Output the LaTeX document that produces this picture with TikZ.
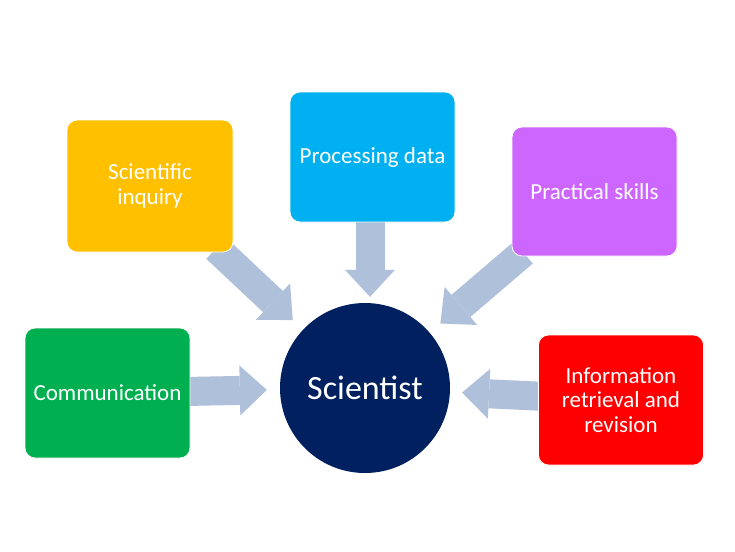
\documentclass[tikz,border=0pt]{standalone}
\usepackage{fontspec}
\setmainfont{Carlito}
\usetikzlibrary{arrows.meta}
\pgfdeclarelayer{bg}
\pgfsetlayers{bg,main}
\definecolor{cyel}{HTML}{FFC000}
\definecolor{ccya}{HTML}{00B0F0}
\definecolor{cpur}{HTML}{CC66FF}
\definecolor{cgrn}{HTML}{00B050}
\definecolor{cred}{HTML}{FF0000}
\definecolor{cnavy}{HTML}{002060}
\definecolor{carrow}{HTML}{AFC0DA}
\tikzset{
  boxnode/.style={rectangle, rounded corners=10pt, minimum width=165pt, minimum height=130pt,
    inner sep=0pt, draw=white, line width=0.8pt, text=white, align=center,
    font=\fontsize{23}{24.5}\selectfont},
  hubnode/.style={circle, fill=cnavy, minimum size=170pt, inner sep=0pt, text=white,
    font=\fontsize{34}{38}\selectfont},
  barrow/.style={draw=carrow, line width=29pt, line cap=butt, shorten <=-6pt,
    -{Triangle[width=50pt,length=27pt,line width=0pt]}, color=carrow}
}
\begin{document}
\begin{tikzpicture}[x=1pt,y=-1pt]
\begin{pgfonlayer}{bg}
\fill[white] (0,0) rectangle (735,551);
\end{pgfonlayer}
\useasboundingbox (0,0) rectangle (735,551);
% nodes
\node[hubnode] (sci) at (365,388) {Scientist};
\node[boxnode, fill=cyel, minimum width=166pt, minimum height=132pt] (inq) at (150,186) {Scientific\\inquiry};
\node[boxnode, fill=ccya] (proc) at (372.5,157) {Processing data};
\node[boxnode, fill=cpur, minimum height=129pt] (prac) at (594.5,191.5) {Practical skills};
\node[boxnode, fill=cgrn] (comm) at (107.5,393) {Communication};
\node[boxnode, fill=cred] (info) at (621,400) {Information\\retrieval and\\revision};
\coordinate (procout) at ([xshift=-2.5pt]proc.south);
% connectors
\begin{pgfonlayer}{bg}
\draw[barrow, shorten >=14pt] (inq) -- (sci);
\draw[barrow, shorten >=6pt] (procout) -- (procout |- sci.north);
\draw[barrow, shorten >=14pt] (prac) -- (sci);
\draw[barrow, shorten >=13pt] (comm) -- (sci);
\draw[barrow, shorten >=12pt] (info) -- (sci);
\end{pgfonlayer}
\end{tikzpicture}
\end{document}
